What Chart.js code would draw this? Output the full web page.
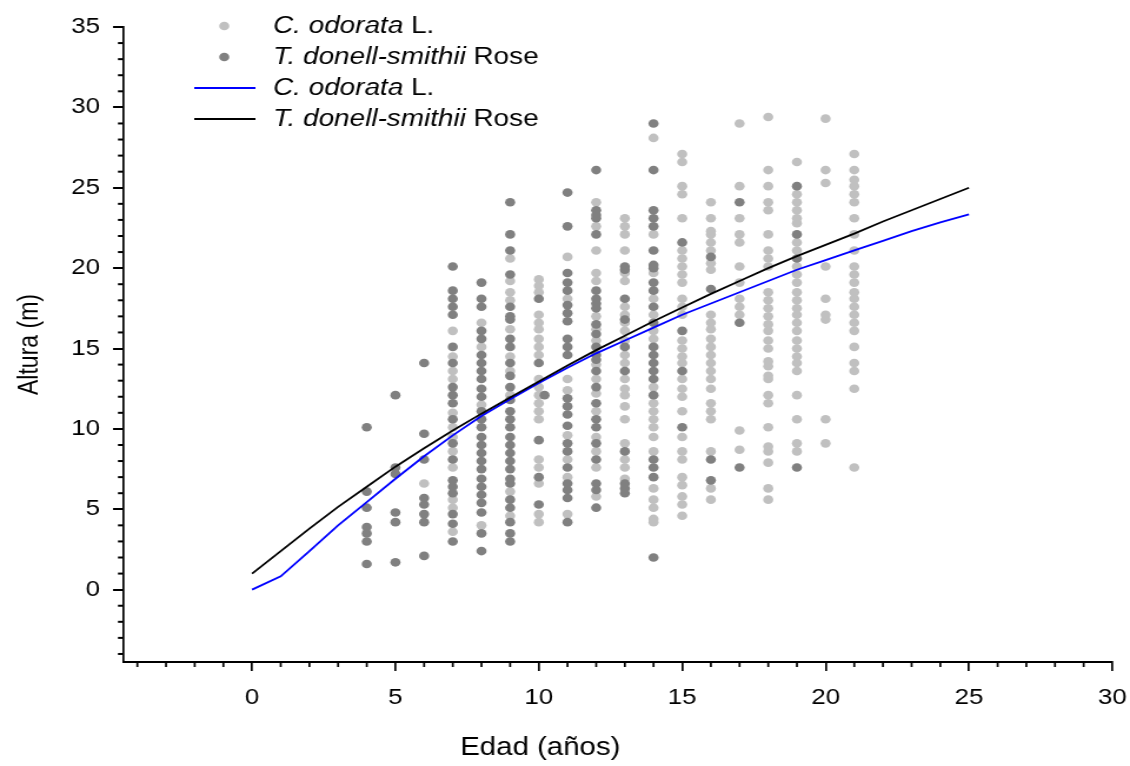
<!DOCTYPE html>
<html>
<head>
<meta charset="utf-8">
<script src="https://cdn.jsdelivr.net/npm/chart.js@4.4.1/dist/chart.umd.min.js"></script>
<style>
  html, body { margin: 0; padding: 0; background: #fff; }
</style>
</head>
<body>
<!-- the figure is drawn narrow and stretched sideways, like the original -->
<canvas id="chart" width="960" height="766" style="display:block;width:1130px;height:766px"></canvas>
<script>
// each row: [age, height, height, ...]
const odorataObs = [
  [6, 6.6],
  [7, 16.1, 14.5, 13.6, 13.1, 11.0, 10.1, 9.5, 8.6, 7.6, 5.6, 5.1, 3.6],
  [8, 16.6, 15.1, 11.5, 4.0],
  [9, 20.6, 19.2, 18.5, 18.0, 16.2, 14.5, 13.6, 12.1, 6.1, 4.6],
  [10, 19.3, 18.9, 18.5, 17.1, 16.6, 16.2, 15.6, 15.1, 14.6, 13.1, 12.6, 12.1, 11.6, 11.1, 10.6, 8.1, 7.6, 6.6, 4.7, 4.2],
  [11, 20.7, 18.1, 13.1, 12.4, 9.6, 8.1, 7.0, 4.7],
  [12, 24.1, 22.6, 21.1, 19.7, 19.2, 17.0, 16.2, 15.5, 14.0, 13.1, 12.2, 11.1, 9.5, 8.6, 7.6, 5.8],
  [13, 23.1, 22.6, 22.1, 21.1, 19.7, 19.2, 17.6, 17.1, 16.6, 16.1, 15.5, 14.6, 14.1, 13.1, 12.5, 12.1, 11.4, 10.6, 9.1, 8.1, 7.6, 6.9],
  [14, 28.1, 22.1, 19.7, 18.1, 17.1, 16.1, 15.6, 12.6, 11.6, 11.1, 10.6, 10.1, 9.5, 8.6, 6.3, 5.6, 5.1, 4.4, 4.2],
  [15, 27.1, 26.6, 25.1, 24.6, 23.1, 21.1, 20.6, 20.1, 19.6, 19.1, 18.1, 17.6, 17.1, 15.5, 15.0, 14.5, 14.1, 13.1, 12.5, 12.0, 11.1, 9.5, 8.6, 8.1, 7.0, 6.5, 5.8, 5.3, 4.6],
  [16, 24.1, 23.1, 22.3, 22.1, 21.6, 21.1, 20.3, 19.9, 17.1, 16.6, 16.2, 15.6, 15.1, 14.6, 14.1, 13.6, 13.1, 12.5, 11.6, 11.1, 10.6, 8.6, 6.3, 5.6],
  [17, 29.0, 25.1, 23.1, 22.1, 21.6, 20.1, 19.1, 18.1, 17.6, 17.1, 9.9, 8.7],
  [18, 29.4, 26.1, 25.1, 24.1, 23.6, 22.1, 21.1, 20.6, 20.1, 18.5, 18.0, 17.5, 17.0, 16.5, 16.1, 15.5, 15.0, 14.2, 13.9, 13.3, 13.1, 12.1, 11.6, 10.1, 8.9, 8.6, 7.9, 6.3, 5.6],
  [19, 26.6, 24.6, 24.1, 23.6, 23.1, 22.8, 21.6, 21.1, 20.1, 19.6, 19.1, 18.5, 18.0, 17.5, 17.1, 16.6, 16.1, 15.5, 15.0, 14.5, 14.1, 13.6, 12.1, 10.6, 9.1, 8.6],
  [20, 29.3, 26.1, 25.3, 20.1, 18.1, 17.1, 16.8, 10.6, 9.1],
  [21, 27.1, 26.1, 25.5, 25.1, 24.6, 24.1, 23.1, 22.1, 21.1, 20.1, 19.6, 19.1, 18.5, 18.1, 17.6, 17.1, 16.6, 16.1, 15.1, 14.1, 13.6, 12.5, 7.6]
];

const donellObs = [
  [4, 10.1, 6.1, 5.1, 3.9, 3.5, 3.0, 1.6],
  [5, 12.1, 7.6, 7.2, 4.8, 4.2, 1.7],
  [6, 14.1, 9.7, 8.1, 5.7, 5.3, 4.7, 4.2, 2.1],
  [7, 20.1, 18.6, 18.1, 17.6, 17.1, 15.1, 14.1, 12.6, 12.1, 11.6, 10.6, 9.1, 8.1, 6.8, 6.4, 6.0, 4.7, 4.1, 3.0],
  [8, 19.1, 18.1, 17.6, 16.1, 15.6, 14.6, 14.1, 13.6, 13.1, 12.5, 12.0, 11.1, 10.6, 10.1, 9.5, 9.0, 8.5, 8.0, 7.5, 6.9, 6.4, 5.9, 5.4, 4.8, 3.5, 2.4],
  [9, 24.1, 22.1, 21.1, 19.6, 17.6, 17.0, 16.8, 15.6, 15.1, 14.1, 13.3, 12.6, 11.8, 11.1, 10.6, 10.1, 9.5, 9.0, 8.5, 8.0, 7.5, 6.9, 6.6, 5.6, 5.1, 4.2, 3.5, 3.0],
  [10, 18.1, 14.1, 9.3, 7.0, 5.3],
  [10.2, 12.1],
  [11, 24.7, 22.6, 19.7, 19.1, 18.6, 17.7, 17.2, 16.7, 15.6, 15.1, 14.6, 11.9, 11.4, 10.9, 10.2, 9.1, 8.6, 7.6, 6.6, 6.2, 5.7, 4.2],
  [12, 26.1, 23.6, 23.3, 23.1, 22.1, 18.6, 18.1, 17.8, 17.5, 16.5, 15.9, 15.1, 14.6, 14.3, 13.6, 12.6, 11.6, 10.6, 10.1, 9.1, 8.1, 6.6, 6.2, 5.1],
  [13, 20.1, 19.9, 18.1, 16.8, 15.1, 13.6, 8.6, 6.6, 6.3, 6.0],
  [14, 29.0, 26.1, 23.6, 23.1, 22.6, 21.1, 20.2, 20.0, 19.1, 18.6, 17.6, 16.6, 15.1, 14.6, 14.1, 13.6, 13.1, 12.1, 8.1, 7.6, 7.0, 2.0],
  [15, 21.6, 16.1, 13.6, 10.1],
  [16, 20.7, 18.7, 8.1, 6.8],
  [17, 24.1, 16.6, 7.6],
  [19, 25.1, 22.1, 20.6, 7.6]
];

// fitted curves
const curveAge = [0, 1, 2, 3, 4, 5, 6, 7, 8, 9, 10, 11, 12, 13, 14, 15, 16, 17, 18, 19, 20, 21, 22, 23, 24, 25];
const odorataFit = [0, 0.83, 2.4, 4.0, 5.45, 6.9, 8.3, 9.6, 10.8, 11.85, 12.85, 13.8, 14.7, 15.5, 16.3, 17.1, 17.8, 18.5, 19.2, 19.9, 20.5, 21.1, 21.7, 22.3, 22.85, 23.35];
const donellFit = [1.0, 2.4, 3.8, 5.15, 6.4, 7.65, 8.8, 9.9, 10.95, 11.95, 12.95, 13.95, 14.9, 15.8, 16.7, 17.55, 18.4, 19.2, 20.0, 20.75, 21.45, 22.15, 22.9, 23.6, 24.3, 25.0];

const speciesNames = ['C. odorata', 'T. donell-smithii'];
const speciesAuthors = ['L.', 'Rose'];

const xTicks = [0, 5, 10, 15, 20, 25, 30];
const yTicks = [0, 5, 10, 15, 20, 25, 30, 35];

const FONT = '"Liberation Sans", Arial, sans-serif';

const toPoints = (rows) => rows.flatMap(r => r.slice(1).map(h => ({ x: r[0], y: h })));
const toLine = (ys) => curveAge.map((a, i) => ({ x: a, y: ys[i] }));

// minor ticks every unit, outside the axes
const minorTicks = {
  id: 'minorTicks',
  afterDraw(chart) {
    const { ctx, scales: { x, y } } = chart;
    ctx.save();
    ctx.strokeStyle = '#000';
    ctx.lineWidth = 1.7;
    for (let v = Math.ceil(x.min); v <= x.max; v++) {
      if (v % 5 === 0) continue;
      const px = x.getPixelForValue(v);
      ctx.beginPath();
      ctx.moveTo(px, x.top);
      ctx.lineTo(px, x.top + 5);
      ctx.stroke();
    }
    ctx.lineWidth = 2;
    for (let v = Math.ceil(y.min); v <= y.max; v++) {
      if (v % 5 === 0) continue;
      const py = y.getPixelForValue(v);
      ctx.beginPath();
      ctx.moveTo(y.right, py);
      ctx.lineTo(y.right - 4.3, py);
      ctx.stroke();
    }
    ctx.restore();
  }
};

const axisTitles = {
  id: 'axisTitles',
  afterDraw(chart) {
    const { ctx, chartArea } = chart;
    ctx.save();
    ctx.fillStyle = '#000';
    ctx.textAlign = 'center';
    ctx.textBaseline = 'middle';
    ctx.font = '25px ' + FONT;
    ctx.fillText('Edad (años)', 459, 748);
    ctx.font = '23px ' + FONT;
    ctx.translate(25.5, (chartArea.top + chartArea.bottom) / 2);
    ctx.rotate(-Math.PI / 2);
    ctx.fillText('Altura (m)', 0, 0);
    ctx.restore();
  }
};

// legend with italic species names
const speciesLegend = {
  id: 'speciesLegend',
  afterDraw(chart) {
    const { ctx } = chart;
    const rows = [26, 57, 88, 119];
    ctx.save();
    ctx.textBaseline = 'middle';
    ctx.textAlign = 'left';
    chart.data.datasets.forEach((ds, i) => {
      const yy = rows[i];
      if (ds.type === 'line') {
        ctx.strokeStyle = ds.borderColor;
        ctx.lineWidth = ds.borderWidth;
        ctx.beginPath();
        ctx.moveTo(165, yy);
        ctx.lineTo(217, yy);
        ctx.stroke();
      } else {
        ctx.fillStyle = ds.backgroundColor;
        ctx.beginPath();
        ctx.arc(190.5, yy, ds.pointRadius, 0, Math.PI * 2);
        ctx.fill();
      }
      const k = ds.species;
      ctx.fillStyle = '#000';
      ctx.font = 'italic 23.7px ' + FONT;
      ctx.fillText(speciesNames[k], 232, yy);
      const w = ctx.measureText(speciesNames[k] + ' ').width;
      ctx.font = '23.7px ' + FONT;
      ctx.fillText(speciesAuthors[k], 232 + w, yy);
    });
    ctx.restore();
  }
};

const axisBase = {
  type: 'linear',
  border: { display: true, color: '#000' },
  grid: { display: true, drawOnChartArea: false, drawTicks: true, color: '#000' },
  ticks: { color: '#000', font: { family: FONT, size: 22 } }
};

new Chart(document.getElementById('chart'), {
  type: 'scatter',
  data: {
    datasets: [
      {
        species: 0,
        label: speciesNames[0] + ' ' + speciesAuthors[0],
        data: toPoints(odorataObs),
        backgroundColor: '#c0c0c0',
        pointRadius: 4.3,
        pointBorderWidth: 0,
        order: 3
      },
      {
        species: 1,
        label: speciesNames[1] + ' ' + speciesAuthors[1],
        data: toPoints(donellObs),
        backgroundColor: '#808080',
        pointRadius: 4.3,
        pointBorderWidth: 0,
        order: 2
      },
      {
        species: 0,
        type: 'line',
        label: speciesNames[0] + ' ' + speciesAuthors[0],
        data: toLine(odorataFit),
        borderColor: '#0000ff',
        borderWidth: 1.8,
        pointRadius: 0,
        tension: 0,
        fill: false,
        order: 1
      },
      {
        species: 1,
        type: 'line',
        label: speciesNames[1] + ' ' + speciesAuthors[1],
        data: toLine(donellFit),
        borderColor: '#000000',
        borderWidth: 1.8,
        pointRadius: 0,
        tension: 0,
        fill: false,
        order: 0
      }
    ]
  },
  options: {
    responsive: false,
    animation: false,
    layout: { padding: { left: 0, right: 15, top: 27, bottom: 0 } },
    plugins: {
      legend: { display: false },
      tooltip: { enabled: false }
    },
    scales: {
      x: {
        ...axisBase,
        min: -4.5,
        max: 30,
        border: { display: true, color: '#000', width: 2 },
        grid: { ...axisBase.grid, tickLength: 9, lineWidth: 1.7 },
        ticks: { ...axisBase.ticks, padding: 14 },
        afterBuildTicks: (scale) => { scale.ticks = xTicks.map(v => ({ value: v })); },
        afterFit: (scale) => {
          scale.height = 104;
          scale.paddingLeft = 0;
          scale.paddingRight = 0;
        }
      },
      y: {
        ...axisBase,
        min: -4.5,
        max: 35,
        border: { display: true, color: '#000', width: 1.7 },
        grid: { ...axisBase.grid, tickLength: 8.5, lineWidth: 2 },
        ticks: { ...axisBase.ticks, padding: 11 },
        afterBuildTicks: (scale) => { scale.ticks = yTicks.map(v => ({ value: v })); },
        afterFit: (scale) => { scale.width = 104.5; }
      }
    }
  },
  plugins: [minorTicks, axisTitles, speciesLegend]
});
</script>
</body>
</html>
